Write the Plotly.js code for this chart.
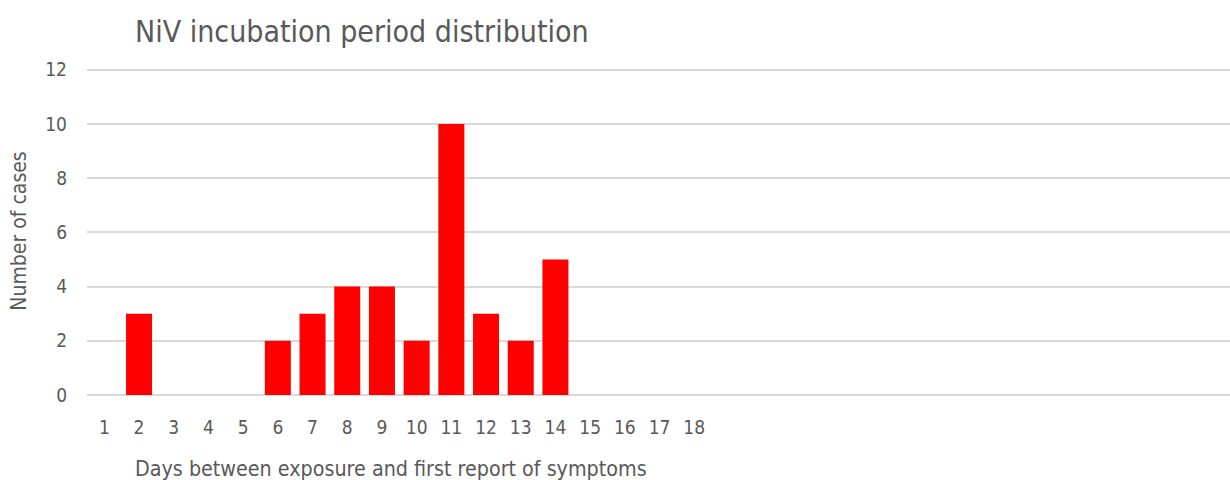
<!DOCTYPE html>
<html>
<head>
<meta charset="utf-8">
<script src="https://cdn.plot.ly/plotly-3.0.1.min.js"></script>
<style>html,body{margin:0;padding:0;background:#fff;}#chart{width:1230px;height:480px;}</style>
</head>
<body>
<div id="chart"></div>
<script>
const days = [1,2,3,4,5,6,7,8,9,10,11,12,13,14,15,16,17,18];
const cases = [0,3,0,0,0,2,3,4,4,2,10,3,2,5,0,0,0,0];
const tickLabels = days.map(String);
const yTicks = [0,2,4,6,8,10,12];
const chartTitle = "NiV incubation period distribution";
const xTitle = "Days between exposure and first report of symptoms";
const yTitle = "Number of cases";

const FONT = "'DejaVu Sans Condensed', 'Roboto', sans-serif";
const GREY = "#595959";

Plotly.newPlot('chart', [{
  type: 'bar',
  x: days,
  y: cases,
  width: 0.75,
  marker: {color: '#ff0000'},
  hoverinfo: 'x+y'
}], {
  width: 1230, height: 480,
  margin: {l: 87, r: 0, t: 67, b: 85},
  paper_bgcolor: '#fff', plot_bgcolor: '#fff',
  font: {family: FONT, color: GREY, size: 19},
  showlegend: false,
  title: {
    text: chartTitle,
    font: {family: FONT, size: 30, color: GREY},
    xref: 'container', x: 135/1230, xanchor: 'left',
    yref: 'container', y: 1 - 31/480, yanchor: 'middle'
  },
  xaxis: {
    range: [0.5, 33.44],
    tickmode: 'array', tickvals: days, ticktext: tickLabels,
    showgrid: false, zeroline: false, showline: false,
    ticks: '', ticklabelstandoff: 19,
    tickfont: {family: FONT, size: 19, color: GREY},
    fixedrange: true
  },
  yaxis: {
    range: [0, 12.1], tickmode: 'array', tickvals: yTicks,
    showgrid: true, gridcolor: '#d9d9d9', gridwidth: 1.5,
    zeroline: true, zerolinecolor: '#d9d9d9', zerolinewidth: 1.5,
    showline: false, ticks: '', ticklabelstandoff: 19,
    tickfont: {family: FONT, size: 19, color: GREY},
    title: {text: yTitle, font: {family: FONT, size: 21, color: GREY}, standoff: 12},
    fixedrange: true
  },
  annotations: [{
    text: xTitle, showarrow: false,
    xref: 'paper', x: (133-87)/1143, xanchor: 'left',
    yref: 'paper', y: -(468-395)/328, yanchor: 'middle',
    font: {family: FONT, size: 21.3, color: GREY}
  }]
}, {displayModeBar: false});
</script>
</body>
</html>
